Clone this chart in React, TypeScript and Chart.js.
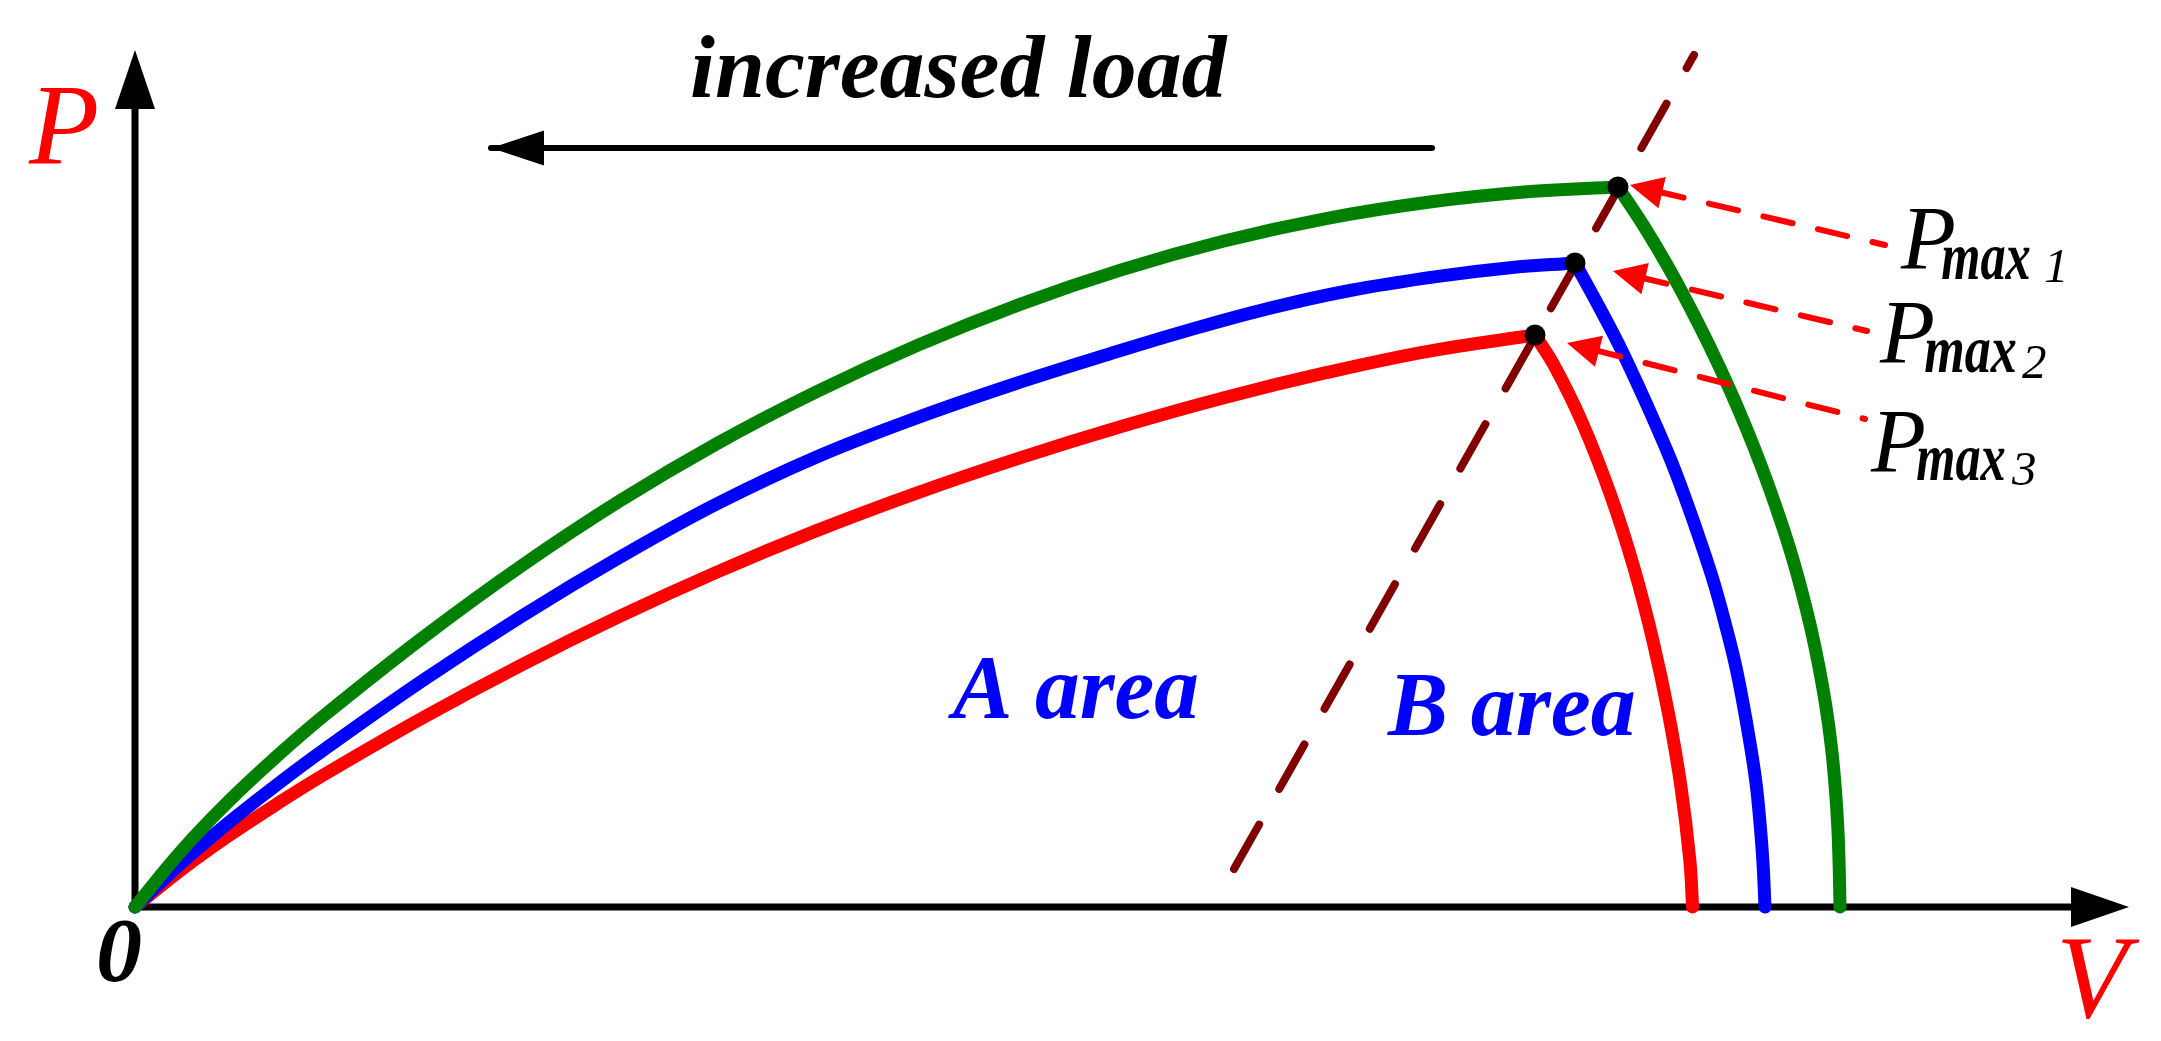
import React, { useEffect, useRef } from "react";
import { Chart, registerables } from "chart.js";

Chart.register(...registerables);

// ---- axis extents (arbitrary units) ----
const V_MAX = 99.7;
const P_MAX = 85.7;

// ---- green curve (lightest load) ----
const greenUpperV = [0, 2.3, 4.65, 7.1, 9.55, 14.45, 19.35, 24.25, 29.15, 34.05, 39.15, 44.25, 49.35, 54.45, 59.55, 64.65, 69.75, 74.15];
const greenUpperP = [0, 5.57, 10.51, 15.09, 19.3, 27.03, 34.15, 40.62, 46.4, 51.5, 56.19, 60.27, 63.74, 66.6, 68.84, 70.47, 71.54, 72.0];
const greenLowerV = [74.15, 75.47, 76.66, 77.74, 78.75, 79.68, 80.54, 81.33, 82.05, 82.71, 83.28, 83.78, 84.2, 84.55, 84.82, 85.01, 85.14, 85.21, 85.25];
const greenLowerP = [72.0, 68.0, 64.0, 60.0, 56.0, 52.0, 48.0, 44.0, 40.0, 36.0, 32.0, 28.0, 24.0, 20.0, 16.0, 12.0, 8.0, 4.0, 0];

// ---- blue curve ----
const blueUpperV = [0, 2.3, 4.65, 7.1, 9.55, 14.45, 19.35, 24.25, 29.15, 34.05, 39.15, 44.25, 48.75, 52.75, 56.8, 60.75, 65.25, 68.75, 72.0];
const blueUpperP = [0, 4.37, 8.39, 12.24, 15.87, 22.73, 29.1, 34.98, 40.37, 44.98, 48.96, 52.48, 55.32, 57.72, 59.91, 61.65, 63.09, 63.93, 64.4];
const blueLowerV = [72.0, 73.1, 74.15, 75.1, 76.0, 76.85, 77.6, 78.3, 78.95, 79.5, 80.0, 80.4, 80.75, 81.05, 81.25, 81.4, 81.5];
const blueLowerP = [64.4, 60.4, 56.4, 52.4, 48.4, 44.4, 40.4, 36.4, 32.4, 28.4, 24.4, 20.4, 16.4, 12.4, 8.4, 4.4, 0];

// ---- red curve (heaviest load) ----
const redUpperV = [0, 2.3, 4.65, 7.1, 9.55, 14.45, 19.35, 24.25, 29.15, 34.05, 39.15, 44.25, 49.35, 54.45, 59.55, 64.65, 70.0];
const redUpperP = [0, 3.7, 7.08, 10.31, 13.35, 18.99, 24.23, 29.08, 33.54, 37.61, 41.44, 44.91, 48.07, 50.93, 53.43, 55.57, 57.2];
const redLowerV = [70.0, 71.0, 72.37, 73.8, 74.95, 75.9, 76.68, 77.3, 77.74, 77.88];
const redLowerP = [57.2, 54.0, 48.4, 41.1, 33.9, 26.6, 19.3, 12.0, 4.7, 0];

// ---- critical (boundary) dashed line ----
const critV = [54.95, 77.95];
const critP = [3.8, 85.2];

// ---- maximum-power points ----
const peakNames = ["1", "2", "3"];
const peakV = [74.15, 72.0, 70.0];
const peakP = [72.0, 64.4, 57.2];

// ---- red dashed pointer arrows (tip -> tail) ----
const ptrTipV = [74.75, 73.9, 71.6];
const ptrTipP = [72.2, 63.6, 56.4];
const ptrTailV = [87.5, 86.6, 86.5];
const ptrTailP = [66.2, 57.6, 48.8];

// ---- "increased load" arrow ----
const loadTip = { v: 17.8, p: 75.9 };
const loadTail = { v: 64.85, p: 75.9 };

const SERIF = "'Liberation Serif', 'Times New Roman', serif";

const pts = (vs: number[], ps: number[]) => vs.map((v, i) => ({ x: v, y: ps[i] }));

function drawText(
  ctx: CanvasRenderingContext2D,
  text: string,
  font: string,
  color: string,
  inkLeft: number,
  baseline: number,
  inkWidth?: number
) {
  ctx.save();
  ctx.font = font;
  ctx.fillStyle = color;
  ctx.textAlign = "left";
  ctx.textBaseline = "alphabetic";
  const m = ctx.measureText(text);
  const w = m.actualBoundingBoxLeft + m.actualBoundingBoxRight;
  const sx = inkWidth ? inkWidth / w : 1;
  ctx.translate(inkLeft, baseline);
  ctx.scale(sx, 1);
  ctx.fillText(text, m.actualBoundingBoxLeft, 0);
  ctx.restore();
}

function arrowHead(
  ctx: CanvasRenderingContext2D,
  tipX: number,
  tipY: number,
  fromX: number,
  fromY: number,
  len: number,
  half: number,
  color: string
) {
  const dx = fromX - tipX;
  const dy = fromY - tipY;
  const d = Math.hypot(dx, dy);
  const ux = dx / d;
  const uy = dy / d;
  const bx = tipX + ux * len;
  const by = tipY + uy * len;
  ctx.save();
  ctx.fillStyle = color;
  ctx.beginPath();
  ctx.moveTo(tipX, tipY);
  ctx.lineTo(bx - uy * half, by + ux * half);
  ctx.lineTo(bx + uy * half, by - ux * half);
  ctx.closePath();
  ctx.fill();
  ctx.restore();
}

const decor = {
  id: "decor",
  beforeDatasetsDraw(chart: any) {
    const ctx: CanvasRenderingContext2D = chart.ctx;
    const xs = chart.scales.x;
    const ys = chart.scales.y;
    const x0 = xs.getPixelForValue(0);
    const y0 = ys.getPixelForValue(0);
    const xTip = xs.getPixelForValue(V_MAX);
    const yTip = ys.getPixelForValue(P_MAX);
    const lw = 7;
    ctx.save();
    ctx.strokeStyle = "#000";
    ctx.lineWidth = lw;
    ctx.lineCap = "butt";
    ctx.beginPath();
    ctx.moveTo(x0 - lw / 2, y0);
    ctx.lineTo(xTip - 50, y0);
    ctx.moveTo(x0, y0 + lw / 2);
    ctx.lineTo(x0, yTip + 50);
    ctx.stroke();
    ctx.restore();
    arrowHead(ctx, xTip, y0, x0, y0, 58, 20, "#000");
    arrowHead(ctx, x0, yTip, x0, y0, 59, 20, "#000");
  },
  afterDatasetsDraw(chart: any) {
    const ctx: CanvasRenderingContext2D = chart.ctx;
    const xs = chart.scales.x;
    const ys = chart.scales.y;
    for (let i = 0; i < ptrTipV.length; i++) {
      arrowHead(
        ctx,
        xs.getPixelForValue(ptrTipV[i]),
        ys.getPixelForValue(ptrTipP[i]),
        xs.getPixelForValue(ptrTailV[i]),
        ys.getPixelForValue(ptrTailP[i]),
        33,
        16,
        "#FF0000"
      );
    }
    arrowHead(
      ctx,
      xs.getPixelForValue(loadTip.v),
      ys.getPixelForValue(loadTip.p),
      xs.getPixelForValue(loadTail.v),
      ys.getPixelForValue(loadTail.p),
      53,
      17.5,
      "#000"
    );
  },
  afterDraw(chart: any) {
    const ctx: CanvasRenderingContext2D = chart.ctx;
    drawText(ctx, "increased load", `italic bold 89px ${SERIF}`, "#000", 692, 97, 536);
    drawText(ctx, "P", `italic 115px ${SERIF}`, "#FF0000", 28, 163);
    drawText(ctx, "V", `italic 118px ${SERIF}`, "#FF0000", 2062, 1017);
    drawText(ctx, "0", `italic bold 92px ${SERIF}`, "#000", 99, 981);
    drawText(ctx, "A area", `italic bold 92px ${SERIF}`, "#0000FF", 948, 718, 249);
    drawText(ctx, "B area", `italic bold 92px ${SERIF}`, "#0000FF", 1387, 735, 247);
    const pLeft = [1900, 1879, 1870];
    const pBase = [269, 363, 472];
    const maxLeft = [1942, 1925, 1917];
    const maxBase = [279, 372, 480];
    const maxW = [88, 91, 88];
    const digLeft = [2045, 2022, 2011];
    const digBase = [282, 378, 485];
    for (let i = 0; i < peakNames.length; i++) {
      drawText(ctx, "P", `italic 90px ${SERIF}`, "#000", pLeft[i], pBase[i]);
      drawText(ctx, "max", `italic bold 68px ${SERIF}`, "#000", maxLeft[i], maxBase[i], maxW[i]);
      drawText(ctx, peakNames[i], `italic 49px ${SERIF}`, "#000", digLeft[i], digBase[i]);
    }
  },
};

function curve(vs: number[], ps: number[], color: string, order: number) {
  return {
    data: pts(vs, ps),
    showLine: true,
    borderColor: color,
    backgroundColor: color,
    borderWidth: 13,
    pointRadius: 0,
    tension: 0.4,
    cubicInterpolationMode: "default",
    fill: false,
    borderCapStyle: "round",
    borderJoinStyle: "round",
    clip: false,
    order,
  };
}

export default function App() {
  const ref = useRef<HTMLCanvasElement>(null);
  useEffect(() => {
    document.body.style.margin = "0";
    const canvas = ref.current!;
    const pointerSets = ptrTipV.map((_, i) => ({
      data: [
        { x: ptrTipV[i], y: ptrTipP[i] },
        { x: ptrTailV[i], y: ptrTailP[i] },
      ],
      showLine: true,
      borderColor: "#FF0000",
      borderWidth: 6,
      borderDash: [30, 26],
      borderDashOffset: 31,
      borderCapStyle: "round",
      pointRadius: 0,
      tension: 0,
      clip: false,
      order: 2,
    }));
    const chart = new Chart(canvas, {
      type: "scatter",
      data: {
        datasets: [
          {
            data: pts(critV, critP),
            showLine: true,
            borderColor: "#800000",
            borderWidth: 8,
            borderDash: [51, 41],
            borderCapStyle: "round",
            pointRadius: 0,
            tension: 0,
            clip: false,
            order: 9,
          },
          curve(redUpperV, redUpperP, "#FF0000", 7),
          curve(redLowerV, redLowerP, "#FF0000", 7),
          curve(blueUpperV, blueUpperP, "#0000FF", 6),
          curve(blueLowerV, blueLowerP, "#0000FF", 6),
          curve(greenUpperV, greenUpperP, "#008000", 5),
          curve(greenLowerV, greenLowerP, "#008000", 5),
          ...pointerSets,
          {
            data: [
              { x: loadTip.v, y: loadTip.p },
              { x: loadTail.v, y: loadTail.p },
            ],
            showLine: true,
            borderColor: "#000",
            borderWidth: 6,
            borderCapStyle: "round",
            pointRadius: 0,
            tension: 0,
            clip: false,
            order: 2,
          },
          {
            data: pts(peakV, peakP),
            showLine: false,
            pointRadius: 10.5,
            pointBackgroundColor: "#000",
            pointBorderWidth: 0,
            backgroundColor: "#000",
            clip: false,
            order: 1,
          },
        ] as any,
      },
      options: {
        responsive: false,
        animation: false,
        events: [],
        layout: { padding: { left: 135, right: 32, top: 50, bottom: 134 } },
        scales: {
          x: { type: "linear", min: 0, max: V_MAX, display: false },
          y: { type: "linear", min: 0, max: P_MAX, display: false },
        },
        plugins: {
          legend: { display: false },
          tooltip: { enabled: false },
        },
      },
      plugins: [decor],
    } as any);
    return () => chart.destroy();
  }, []);
  return (
    <canvas
      ref={ref}
      width={2161}
      height={1041}
      style={{ position: "fixed", left: 0, top: 0, width: "2161px", height: "1041px", display: "block", background: "#fff" }}
    />
  );
}
